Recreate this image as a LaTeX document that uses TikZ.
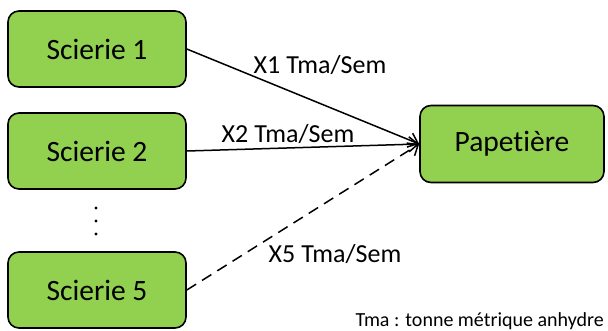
\documentclass[tikz,border=0pt]{standalone}
\usepackage{fontspec}
\setmainfont{Carlito}[Ligatures=NoCommon]
\usetikzlibrary{arrows.meta}
\definecolor{boxgreen}{HTML}{92D050}
\begin{document}
\begin{tikzpicture}[x=1pt, y=-1pt]
\tikzstyle{box} = [rectangle, rounded corners=11pt, draw=black, line width=1.6pt, fill=boxgreen, minimum width=178pt, minimum height=76pt, font=\fontsize{29.5}{32}\selectfont]
\tikzstyle{edge} = [draw=black, line width=1.5pt, -{Straight Barb[length=9pt, width=15pt, line width=1.5pt]}]
\tikzstyle{lbl} = [anchor=base, inner sep=0pt, font=\fontsize{26}{28}\selectfont]
\useasboundingbox (0,0) rectangle (608,330);

\node[box] (s1) at (97,49) {Scierie 1};
\node[box] (s2) at (97,151) {Scierie 2};
\node[box] (s5) at (97,290) {Scierie 5};
\node[box, minimum width=184pt, minimum height=77pt] (pap) at (512,144) {Papetière};

\foreach \y in {208,221,234}
  \fill (96,\y) circle (1.6pt);

\draw[edge] (s1.east) to (pap.west);
\draw[edge] (s2.east) to (pap.west);
\draw[edge, dashed, dash pattern=on 11pt off 7pt] (s5.east) to (pap.west);

\node[lbl] (l1) at (320,73) {X1 Tma/Sem};
\node[lbl] (l2) at (288,142) {X2 Tma/Sem};
\node[lbl] (l5) at (335,262) {X5 Tma/Sem};
\node[anchor=base east, inner sep=0pt, font=\fontsize{20}{22}\selectfont] (note) at (604,326) {Tma : tonne métrique anhydre};
\end{tikzpicture}
\end{document}
